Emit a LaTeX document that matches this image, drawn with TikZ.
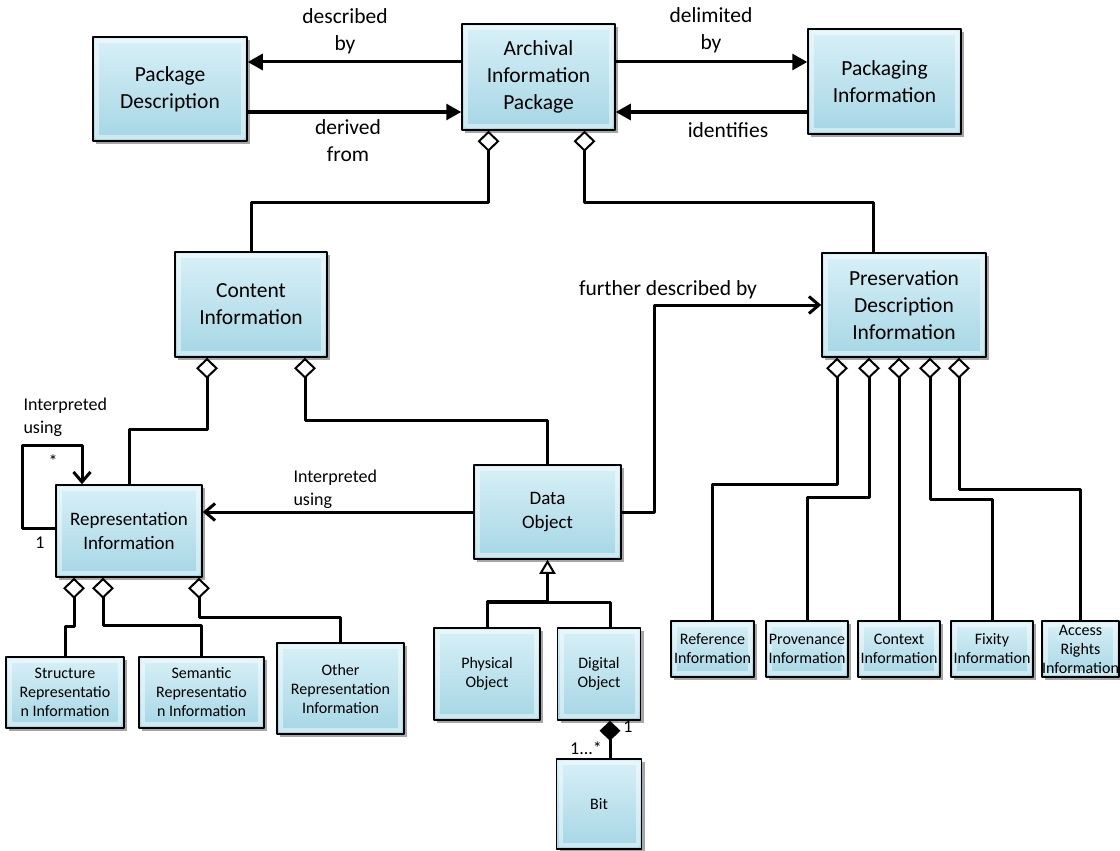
\documentclass[tikz,border=0pt]{standalone}
\usepackage{fontspec}
\setmainfont{Carlito}
\usetikzlibrary{arrows.meta,shadows}
\definecolor{boxtop}{RGB}{216,240,247}
\definecolor{boxbot}{RGB}{166,214,229}
\begin{document}
\begin{tikzpicture}[x=1pt,y=-1pt,line join=round,
 box/.style={draw,line width=1.5pt,top color=boxtop,bottom color=boxbot,align=center,inner sep=0pt,
  drop shadow={shadow xshift=3pt,shadow yshift=-3pt,fill=gray!70,opacity=1},
  path picture={\draw[white,opacity=.45,line width=4pt]
   ([shift={(4pt,-4pt)}]path picture bounding box.north west) rectangle
   ([shift={(-4pt,4pt)}]path picture bounding box.south east);}},
 big/.style={font=\fontsize{21.5}{27}\selectfont},
 mid/.style={font=\fontsize{19}{24}\selectfont},
 small/.style={font=\fontsize{16}{19}\selectfont},
 note/.style={font=\fontsize{18}{23}\selectfont},
 link/.style={line width=3pt},
 tri/.style={link,-{Triangle[length=15pt,width=16pt]}},
 barb/.style={link,-{Straight Barb[length=10pt,width=17pt]}},
 agg/.style={link,-{Diamond[open,length=21pt,width=22pt,line width=2pt]}},
 comp/.style={link,-{Diamond[length=20pt,width=21pt]}},
 gen/.style={link,-{Triangle[open,length=14pt,width=16pt,line width=2pt]}}]
 \fill[white] (0,0) rectangle (1120,851);
 \useasboundingbox (0,0) rectangle (1120,851);
 % package level
 \node[box,big,minimum width=154pt,minimum height=104pt] (pd) at (170,89) {Package\\Description};
 \node[box,big,minimum width=153pt,minimum height=106pt] (aip) at (538.5,77) {Archival\\Information\\Package};
 \node[box,big,minimum width=153pt,minimum height=105pt] (pi) at (884.5,81.5) {Packaging\\Information};
 \node[box,big,minimum width=152pt,minimum height=105pt] (ci) at (251,304.5) {Content\\Information};
 \node[box,big,minimum width=164pt,minimum height=104pt] (pdi) at (904,305) {Preservation\\Description\\Information};
 % content side
 \node[box,mid,minimum width=146pt,minimum height=92pt] (ri) at (129,531) {Representation\\Information};
 \node[box,mid,minimum width=147pt,minimum height=94pt] (dobj) at (547.5,512) {Data\\Object};
 \node[box,small,minimum width=118pt,minimum height=71pt] (str) at (65,692.5) {Structure\\Representatio\\n Information};
 \node[box,small,minimum width=125pt,minimum height=71pt] (sem) at (201.5,692.5) {Semantic\\Representatio\\n Information};
 \node[box,small,minimum width=127pt,minimum height=91pt] (oth) at (340.5,688.5) {Other\\Representation\\Information};
 \node[box,small,minimum width=106pt,minimum height=92pt] (phy) at (487,674) {Physical\\Object};
 \node[box,small,minimum width=83pt,minimum height=92pt] (dig) at (599,674) {Digital\\Object};
 \node[box,small,minimum width=85pt,minimum height=90pt] (bit) at (599,804) {Bit};
 % preservation side
 \node[box,small,minimum width=83pt,minimum height=56pt] (ref) at (712.5,649) {Reference\\Information};
 \node[box,small,minimum width=82pt,minimum height=56pt] (prov) at (807,649) {Provenance\\Information};
 \node[box,small,minimum width=82pt,minimum height=56pt] (ctx) at (899,649) {Context\\Information};
 \node[box,small,minimum width=82pt,minimum height=56pt] (fix) at (992,649) {Fixity\\Information};
 \node[box,small,minimum width=77pt,minimum height=56pt] (acc) at (1080.5,649) {Access\\Rights\\Information};
 % associations
 \draw[tri] (aip.west |- 0,62) -- (pd.east |- 0,62);
 \draw[tri] (pd.east |- 0,112) -- (aip.west |- 0,112);
 \draw[tri] (aip.east |- 0,62) -- (pi.west |- 0,62);
 \draw[tri] (pi.west |- 0,112) -- (aip.east |- 0,112);
 \node[big,align=center] (ldesc) at (345,31) {described\\by};
 \node[big,align=center] (lderiv) at (348,141) {derived\\from};
 \node[big,align=center] (ldelim) at (711,30) {delimited\\by};
 \node[big] (lident) at (728,130) {identifies};
 \draw[agg] (ci.north) -- ++(0,-49) -| ([xshift=-50pt]aip.south);
 \draw[agg] ([xshift=-31pt]pdi.north) -- ++(0,-50) -| ([xshift=46pt]aip.south);
 \draw[agg] (ri.north) -- ++(0,-55) -| ([xshift=-44pt]ci.south);
 \draw[agg] (dobj.north) -- ++(0,-44) -| ([xshift=54pt]ci.south);
 \draw[barb] (ri.west |- 0,528) -| (22,445) -| ([xshift=-47pt]ri.north);
 \node[note,align=left,anchor=west] (lself) at (20,417) {Interpreted\\using};
 \node[note] (lstar) at (53,461) {*};
 \node[note] (lone) at (40,543) {1};
 \draw[barb] (dobj.west) -- (ri.east |- dobj.west);
 \node[note,align=left,anchor=west] (linterp) at (290,489) {Interpreted\\using};
 \draw[barb] (dobj.east) -- ++(33,0) |- (pdi.west);
 \node[big] (lfurther) at (668,290) {further described by};
 \draw[gen] (phy.north) -- ++(0,-26) -| (dobj.south);
 \draw[link] ([xshift=11pt]dig.north) |- (phy.north |- 0,602);
 \draw[comp] ([xshift=11pt]bit.north) -- ([xshift=11pt]dig.south);
 \node[note] (ldig) at (628,727) {1};
 \node[note] (lbit) at (586,748) {1...*};
 \draw[agg] (str.north) -- ++(0,-30) -| ([xshift=-55pt]ri.south);
 \draw[agg] (sem.north) -- ++(0,-31) -| ([xshift=-26pt]ri.south);
 \draw[agg] (oth.north) -- ++(0,-25) -| ([xshift=70pt]ri.south);
 \draw[agg] (ref.north) -- ++(0,-136) -| ([xshift=-67pt]pdi.south);
 \draw[agg] (prov.north) -- ++(0,-123) -| ([xshift=-35pt]pdi.south);
 \draw[agg] (ctx.north) -- (ctx.north |- pdi.south);
 \draw[agg] (fix.north) -- ++(0,-121) -| ([xshift=26pt]pdi.south);
 \draw[agg] (acc.north) -- ++(0,-131) -| ([xshift=55pt]pdi.south);
\end{tikzpicture}
\end{document}
